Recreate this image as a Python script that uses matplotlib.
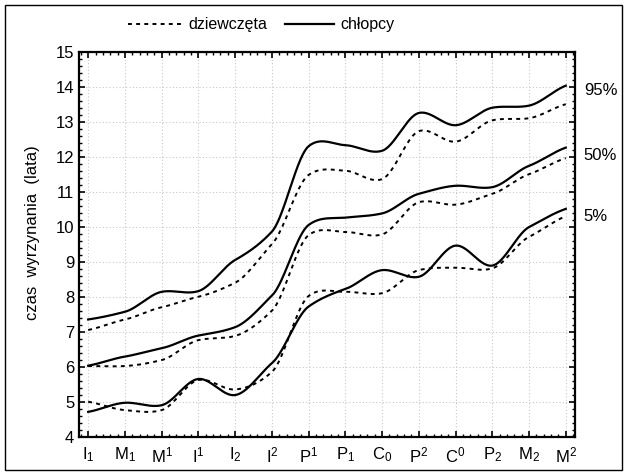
import numpy as np
import matplotlib
matplotlib.use("Agg")
import matplotlib.pyplot as plt
from matplotlib.ticker import MultipleLocator, AutoMinorLocator
import matplotlib.transforms as mtransforms
from matplotlib.patches import Rectangle

plt.rcParams['font.family'] = ['Liberation Sans', 'DejaVu Sans']
plt.rcParams['mathtext.fontset'] = 'custom'
plt.rcParams['mathtext.rm'] = 'Liberation Sans'
plt.rcParams['mathtext.it'] = 'Liberation Sans'

categories = [r'I$_1$', r'M$_1$', r'M$^1$', r'I$^1$', r'I$_2$', r'I$^2$', r'P$^1$',
              r'P$_1$', r'C$_0$', r'P$^2$', r'C$^0$', r'P$_2$', r'M$_2$', r'M$^2$']

boys_95 = [7.35, 7.57, 8.14, 8.16, 9.05, 9.86, 12.3, 12.33, 12.17, 13.25, 12.9, 13.4, 13.46, 14.03]
girls_95 = [7.05, 7.35, 7.7, 8.0, 8.4, 9.5, 11.48, 11.6, 11.36, 12.73, 12.43, 13.04, 13.1, 13.5]
boys_50 = [6.03, 6.29, 6.53, 6.89, 7.13, 8.03, 10.05, 10.26, 10.38, 10.94, 11.17, 11.13, 11.74, 12.26]
girls_50 = [6.02, 6.02, 6.19, 6.76, 6.88, 7.6, 9.76, 9.85, 9.78, 10.7, 10.63, 10.94, 11.5, 11.96]
boys_5 = [4.71, 4.97, 4.9, 5.65, 5.19, 6.1, 7.72, 8.22, 8.76, 8.57, 9.46, 8.89, 9.99, 10.51]
girls_5 = [5.0, 4.76, 4.76, 5.62, 5.35, 5.85, 8.02, 8.14, 8.1, 8.76, 8.83, 8.81, 9.71, 10.3]

pct_labels = ['95%', '50%', '5%']
pct_label_y = [13.9, 12.04, 10.28]
legend_labels = ['dziewczęta', 'chłopcy']
ylabel = 'czas  wyrzynania  (lata)'


def cardinal_curve(y, c=0.7, per=60):
    y = np.asarray(y, float)
    m = len(y)
    t = np.zeros(m)
    t[1:-1] = c * (y[2:] - y[:-2]) / 2.0
    t[0] = c * (y[1] - y[0])
    t[-1] = c * (y[-1] - y[-2])
    xs_all, ys_all = [], []
    for i in range(m - 1):
        s = np.linspace(0, 1, per, endpoint=(i == m - 2))
        h00 = 2 * s**3 - 3 * s**2 + 1
        h10 = s**3 - 2 * s**2 + s
        h01 = -2 * s**3 + 3 * s**2
        h11 = s**3 - s**2
        ys_all.append(h00 * y[i] + h10 * t[i] + h01 * y[i + 1] + h11 * t[i + 1])
        xs_all.append(i + s)
    return np.concatenate(xs_all), np.concatenate(ys_all)


fig = plt.figure(figsize=(6.27, 4.75), dpi=100)
ax = fig.add_axes([0.126, 0.0806, 0.791, 0.8105])

dot_style = dict(color='black', lw=1.4, linestyle=(0, (2.0, 2.2)))
solid_style = dict(color='black', lw=1.6, linestyle='-')

for g in (girls_95, girls_50, girls_5):
    xs, ys = cardinal_curve(g)
    ax.plot(xs, ys, **dot_style)
for b in (boys_95, boys_50, boys_5):
    xs, ys = cardinal_curve(b)
    ax.plot(xs, ys, **solid_style)

n = len(categories)
ax.set_xlim(-0.25, n - 1 + 0.25)
ax.set_ylim(4, 15)
ax.set_xticks(range(n))
ax.set_xticklabels(categories, fontsize=12)
ax.yaxis.set_major_locator(MultipleLocator(1))
ax.yaxis.set_minor_locator(AutoMinorLocator(5))
ax.xaxis.set_minor_locator(AutoMinorLocator(5))
ax.tick_params(axis='both', which='both', direction='in', top=True, right=True)
ax.tick_params(axis='both', which='major', length=4, width=1.2, labelsize=12)
ax.tick_params(axis='both', which='minor', length=2.5, width=1.0)
ax.tick_params(axis='x', which='major', pad=6)
ax.grid(True, which='major', color='#c8c8c8', linestyle=(0, (1, 2)), lw=0.8)
for s in ax.spines.values():
    s.set_linewidth(1.6)

ax.set_ylabel(ylabel, fontsize=12)
ax.yaxis.set_label_coords(-0.079, 0.53)

trans = mtransforms.blended_transform_factory(ax.transAxes, ax.transData)
for lab, yy in zip(pct_labels, pct_label_y):
    ax.text(1.018, yy, lab, transform=trans, fontsize=12, va='center', ha='left', clip_on=False)

# legend drawn in figure coords
ly = 1 - 24 / 475
fig.add_artist(plt.Line2D([128 / 627, 181 / 627], [ly, ly], transform=fig.transFigure, **dot_style))
fig.text(188 / 627, ly, legend_labels[0], fontsize=11.5, va='center', ha='left')
fig.add_artist(plt.Line2D([285 / 627, 334 / 627], [ly, ly], transform=fig.transFigure, **solid_style))
fig.text(340 / 627, ly, legend_labels[1], fontsize=11.5, va='center', ha='left')

fig.add_artist(Rectangle((5 / 627, 5 / 475), 617 / 627, 465 / 475, transform=fig.transFigure,
                         fill=False, edgecolor='black', lw=1.0))

fig.savefig('out.png', dpi=100)
